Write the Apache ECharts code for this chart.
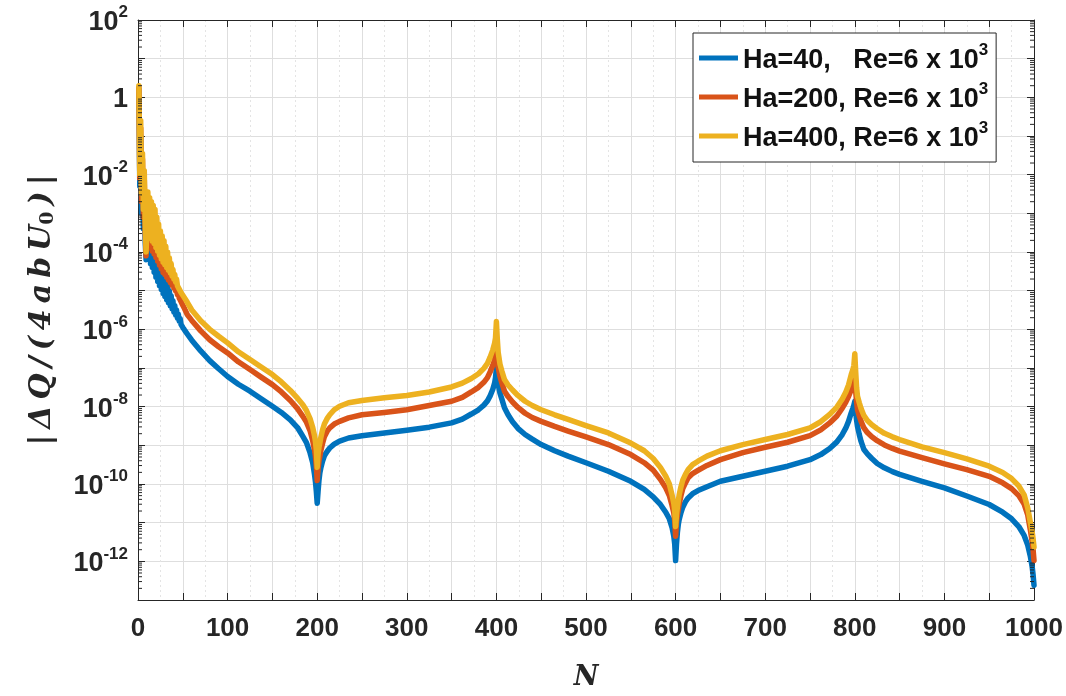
<!DOCTYPE html>
<html>
<head>
<meta charset="utf-8">
<title>Flow-rate deviation versus N</title>
<script src="https://cdn.jsdelivr.net/npm/echarts@6/dist/echarts.min.js"></script>
<style>
  html, body { margin: 0; padding: 0; background: #ffffff; }
  #chart { width: 1066px; height: 696px; }
</style>
</head>
<body>
<div id="chart"></div>
<script>
// Sample positions along N (every N at the start, where odd and even N alternate)
const N = [
  1,2,3,4,5,6,7,8,9,10,11,12,13,14,15,16,17,18,19,20,21,22,23,24,25,26,
  27,28,29,30,31,32,33,34,35,36,37,38,39,40,41,42,43,44,45,46,47,48,49,50,51,52,
  55,60,70,80,90,100,
  112,125,137,150,160,170,178,184,188,192,195,197,198,199,200,
  201,202,203,204,206,208,211,214,219,225,235,250,275,300,325,350,362,372,380,386,390,393,396,398,399,400,
  401,402,404,406,409,413,418,424,432,440,450,465,480,500,525,550,565,575,583,589,593,596,598,599,600,
  601,602,603,604,606,608,611,614,619,625,635,650,675,700,725,750,762,772,780,786,790,793,796,798,799,800,
  801,802,803,805,807,810,814,819,825,833,842,850,875,900,925,950,965,975,983,989,993,996,998,999,1000
];

// log10 of |ΔQ/(4abU0)| for each case, aligned with N
const logHa40 = [
  0.2,-2.3,-1.0,-3.0,-1.9,-3.4,-2.5,-3.7,-4.2,-3.95,-3.1,-4.15,-3.25,-4.3,-3.35,-4.4,-3.5,-4.52,-3.65,-4.65,-3.82,-4.76,-3.98,-4.87,-4.14,-4.97,
  -4.3,-5.07,-4.55,-5.15,-4.7,-5.23,-4.85,-5.31,-5.0,-5.39,-5.13,-5.47,-5.26,-5.55,-5.38,-5.63,-5.5,-5.71,-5.61,-5.79,-5.72,-5.87,-5.82,-5.95,-5.93,-6.02,
  -6.12,-6.28,-6.56,-6.81,-7.02,-7.22,
  -7.42,-7.60,-7.79,-7.99,-8.15,-8.34,-8.54,-8.77,-8.93,-9.19,-9.45,-9.75,-9.93,-10.18,-10.5,
  -10.18,-9.9,-9.71,-9.59,-9.41,-9.27,-9.16,-9.07,-8.97,-8.89,-8.81,-8.75,-8.68,-8.61,-8.53,-8.42,-8.32,-8.19,-8.08,-7.96,-7.85,-7.72,-7.55,-7.39,-7.25,-7.0,
  -7.25,-7.42,-7.65,-7.8,-8.03,-8.21,-8.39,-8.56,-8.72,-8.84,-8.98,-9.14,-9.28,-9.45,-9.67,-9.93,-10.14,-10.33,-10.53,-10.73,-10.9,-11.12,-11.35,-11.55,-11.98,
  -11.55,-11.25,-11.05,-10.92,-10.74,-10.6,-10.46,-10.36,-10.25,-10.17,-10.07,-9.93,-9.80,-9.67,-9.54,-9.37,-9.24,-9.08,-8.91,-8.72,-8.55,-8.38,-8.16,-8.03,-7.96,-7.86,
  -8.12,-8.35,-8.51,-8.72,-8.9,-9.1,-9.22,-9.34,-9.47,-9.58,-9.68,-9.75,-9.93,-10.10,-10.31,-10.53,-10.73,-10.9,-11.1,-11.33,-11.58,-11.88,-12.15,-12.35,-12.62
];

const logHa200 = [
  0.25,-2.1,-0.8,-2.7,-1.6,-3.1,-2.1,-3.4,-4.1,-3.6,-2.7,-3.78,-2.85,-3.9,-2.95,-3.98,-3.05,-4.05,-3.15,-4.14,-3.3,-4.24,-3.45,-4.34,-3.6,-4.44,
  -3.75,-4.53,-3.95,-4.58,-4.1,-4.65,-4.25,-4.72,-4.4,-4.79,-4.55,-4.86,-4.68,-4.93,-4.8,-5.01,-4.92,-5.1,-5.04,-5.19,-5.15,-5.28,-5.26,-5.38,-5.38,-5.47,
  -5.62,-5.77,-6.04,-6.27,-6.45,-6.61,
  -6.84,-7.04,-7.23,-7.43,-7.62,-7.84,-8.05,-8.25,-8.4,-8.62,-8.88,-9.12,-9.28,-9.52,-9.91,
  -9.6,-9.4,-9.28,-9.14,-8.95,-8.78,-8.64,-8.55,-8.45,-8.38,-8.29,-8.21,-8.15,-8.08,-7.97,-7.86,-7.76,-7.62,-7.5,-7.37,-7.25,-7.1,-6.93,-6.79,-6.67,-6.5,
  -6.75,-6.98,-7.22,-7.38,-7.6,-7.74,-7.88,-8.02,-8.17,-8.28,-8.38,-8.51,-8.63,-8.78,-8.98,-9.24,-9.45,-9.64,-9.88,-10.1,-10.3,-10.55,-10.75,-10.95,-11.35,
  -11.0,-10.8,-10.66,-10.52,-10.3,-10.12,-9.97,-9.84,-9.73,-9.65,-9.52,-9.37,-9.19,-9.05,-8.92,-8.75,-8.6,-8.42,-8.24,-8.04,-7.88,-7.74,-7.56,-7.45,-7.38,-7.28,
  -7.6,-7.88,-8.08,-8.24,-8.38,-8.54,-8.67,-8.78,-8.88,-8.99,-9.08,-9.15,-9.32,-9.48,-9.63,-9.80,-9.97,-10.12,-10.3,-10.52,-10.8,-11.2,-11.5,-11.7,-11.98
];

const logHa400 = [
  0.3,-2.0,-0.6,-2.5,-1.45,-2.9,-1.9,-3.2,-4.0,-3.4,-2.45,-3.55,-2.6,-3.65,-2.7,-3.72,-2.8,-3.78,-2.9,-3.88,-3.1,-3.98,-3.28,-4.08,-3.45,-4.18,
  -3.58,-4.26,-3.7,-4.33,-3.85,-4.4,-4.0,-4.47,-4.15,-4.54,-4.3,-4.62,-4.45,-4.7,-4.58,-4.78,-4.7,-4.87,-4.82,-4.96,-4.93,-5.05,-5.03,-5.12,-5.13,-5.19,
  -5.3,-5.5,-5.78,-6.0,-6.18,-6.35,
  -6.58,-6.78,-6.97,-7.17,-7.36,-7.58,-7.78,-7.95,-8.1,-8.31,-8.54,-8.75,-8.9,-9.12,-9.57,
  -9.22,-9.05,-8.94,-8.8,-8.6,-8.45,-8.31,-8.21,-8.08,-7.99,-7.9,-7.84,-7.77,-7.71,-7.62,-7.49,-7.39,-7.27,-7.15,-7.01,-6.88,-6.72,-6.53,-6.36,-6.22,-5.8,
  -6.25,-6.6,-6.9,-7.07,-7.3,-7.44,-7.57,-7.71,-7.86,-7.97,-8.08,-8.21,-8.33,-8.49,-8.68,-8.94,-9.14,-9.34,-9.57,-9.8,-10.0,-10.28,-10.5,-10.7,-11.1,
  -10.8,-10.6,-10.44,-10.28,-10.07,-9.9,-9.75,-9.63,-9.5,-9.41,-9.28,-9.14,-8.98,-8.85,-8.72,-8.55,-8.39,-8.2,-8.01,-7.8,-7.62,-7.44,-7.17,-7.03,-6.93,-6.63,
  -7.1,-7.5,-7.73,-7.9,-8.05,-8.22,-8.36,-8.47,-8.57,-8.69,-8.78,-8.85,-9.04,-9.19,-9.35,-9.54,-9.7,-9.86,-10.05,-10.28,-10.62,-11.0,-11.25,-11.42,-11.63
];

const seriesNames = ['Ha=40', 'Ha=200', 'Ha=400'];
const legendLabels = {
  'Ha=40':  'Ha=40,   Re=6 x 10',
  'Ha=200': 'Ha=200, Re=6 x 10',
  'Ha=400': 'Ha=400, Re=6 x 10'
};
const legendExponent = '3';
const colors = ['#0072BD', '#D95319', '#EDB120'];

const X_MIN = 0, X_MAX = 1000, Y_MIN = 1e-13, Y_MAX = 1e2;
const AXIS_COLOR = '#262626';
const GRID_COLOR = '#dedede';

function toPairs(logs) {
  return N.map((n, i) => [n, Math.pow(10, logs[i])]);
}

// Minor tick values (2..9 within every decade) for the log axis
const minorTickValues = [];
for (let d = -13; d < 2; d++) {
  for (let k = 2; k <= 9; k++) minorTickValues.push([X_MIN, k * Math.pow(10, d)]);
}

function expLabel(v) {
  const e = Math.round(Math.log10(v));
  if (e % 2 !== 0) return '';
  if (e === 0) return '{b|1}';
  return '{b|10}{s|' + e + '}';
}

// y-axis title with a little letter spacing
const TS = '\u2009';
const yName = '{n||' + TS + 'Δ' + TS + 'Q' + TS + '/' + TS + '(' + TS + '4' + TS + 'a' + TS + 'b' + TS + 'U}{sub|0}{n|' + TS + ')' + TS + '|}';

const chart = echarts.init(document.getElementById('chart'), null, { renderer: 'canvas' });

const lineSeries = [logHa40, logHa200, logHa400].map((logs, i) => ({
  name: seriesNames[i],
  type: 'line',
  data: toPairs(logs),
  showSymbol: false,
  symbol: 'none',
  z: 3 + i,
  lineStyle: { color: colors[i], width: 5.5, cap: 'round', join: 'round' },
  itemStyle: { color: colors[i] },
  emphasis: { disabled: true }
}));

const option = {
  animation: false,
  backgroundColor: '#ffffff',
  grid: { left: 138, right: 32, top: 20, bottom: 96, containLabel: false },
  xAxis: [
    {
      type: 'value', min: X_MIN, max: X_MAX, interval: 50,
      name: 'N', nameLocation: 'middle', nameGap: 64,
      nameTextStyle: { fontFamily: 'DejaVu Serif', fontStyle: 'italic', fontWeight: 'bold', fontSize: 27, color: AXIS_COLOR },
      axisLine: { show: true, onZero: false, lineStyle: { color: AXIS_COLOR, width: 1 } },
      axisTick: { show: true, inside: true, length: 7, lineStyle: { color: AXIS_COLOR } },
      axisLabel: {
        margin: 16, color: AXIS_COLOR, fontFamily: 'Liberation Sans', fontWeight: 'bold', fontSize: 26,
        formatter: v => (v % 100 === 0 ? String(v) : '')
      },
      splitLine: { show: true, lineStyle: { color: GRID_COLOR, width: 1 } },
      minorTick: { show: false, splitNumber: 2 },
      minorSplitLine: { show: true, lineStyle: { color: '#e4e4e4', width: 1, type: [2, 3] } }
    },
    {
      type: 'value', position: 'top', min: X_MIN, max: X_MAX, interval: 50,
      axisLine: { show: true, onZero: false, lineStyle: { color: AXIS_COLOR, width: 1 } },
      axisTick: { show: true, inside: true, length: 7, lineStyle: { color: AXIS_COLOR } },
      axisLabel: { show: false },
      splitLine: { show: false }
    }
  ],
  yAxis: [
    {
      type: 'log', logBase: 10, min: Y_MIN, max: Y_MAX, interval: 1,
      name: yName,
      nameLocation: 'middle', nameRotate: 90, nameGap: 80,
      nameTextStyle: {
        color: AXIS_COLOR,
        rich: {
          n: { fontFamily: 'DejaVu Serif', fontStyle: 'italic', fontWeight: 'bold', fontSize: 30, color: AXIS_COLOR },
          sub: { fontFamily: 'DejaVu Serif', fontWeight: 'bold', fontSize: 19, color: AXIS_COLOR, verticalAlign: 'bottom', padding: [12, 0, 0, 0] }
        }
      },
      axisLine: { show: true, onZero: false, lineStyle: { color: AXIS_COLOR, width: 1 } },
      axisTick: { show: true, inside: true, length: 7, lineStyle: { color: AXIS_COLOR } },
      axisLabel: {
        margin: 10, color: AXIS_COLOR, formatter: expLabel,
        rich: {
          b: { fontFamily: 'Liberation Sans', fontWeight: 'bold', fontSize: 27, color: AXIS_COLOR, lineHeight: 32, verticalAlign: 'bottom' },
          s: { fontFamily: 'Liberation Sans', fontWeight: 'bold', fontSize: 17, color: AXIS_COLOR, lineHeight: 32, verticalAlign: 'top' }
        }
      },
      splitLine: { show: true, lineStyle: { color: GRID_COLOR, width: 1 } }
    },
    {
      type: 'log', logBase: 10, position: 'right', min: Y_MIN, max: Y_MAX, interval: 1,
      axisLine: { show: true, onZero: false, lineStyle: { color: AXIS_COLOR, width: 1 } },
      axisTick: { show: true, inside: true, length: 7, lineStyle: { color: AXIS_COLOR } },
      axisLabel: { show: false },
      splitLine: { show: false }
    }
  ],
  legend: {
    data: seriesNames,
    orient: 'vertical',
    left: 693, top: 33,
    padding: [9, 8, 10, 6],
    itemGap: 7,
    itemWidth: 39, itemHeight: 5,
    icon: 'rect',
    backgroundColor: '#ffffff',
    borderColor: AXIS_COLOR, borderWidth: 1,
    selectedMode: false,
    formatter: name => '{t|' + legendLabels[name] + '}{s|' + legendExponent + '}',
    textStyle: {
      rich: {
        t: { fontFamily: 'Liberation Sans', fontWeight: 'bold', fontSize: 27, color: '#111111', lineHeight: 32, verticalAlign: 'bottom' },
        s: { fontFamily: 'Liberation Sans', fontWeight: 'bold', fontSize: 17, color: '#111111', lineHeight: 18, verticalAlign: 'top' }
      }
    }
  },
  series: lineSeries.concat([
    {
      // minor log ticks on the left and right frame edges
      type: 'custom',
      silent: true,
      z: 10,
      clip: false,
      data: minorTickValues,
      renderItem: (params, api) => {
        const v = api.value(1);
        const l = api.coord([X_MIN, v]);
        const r = api.coord([X_MAX, v]);
        const style = { stroke: AXIS_COLOR, lineWidth: 1 };
        return {
          type: 'group',
          children: [
            { type: 'line', shape: { x1: l[0], y1: l[1], x2: l[0] + 4, y2: l[1] }, style },
            { type: 'line', shape: { x1: r[0], y1: r[1], x2: r[0] - 4, y2: r[1] }, style }
          ]
        };
      }
    }
  ])
};

chart.setOption(option);
</script>
</body>
</html>
